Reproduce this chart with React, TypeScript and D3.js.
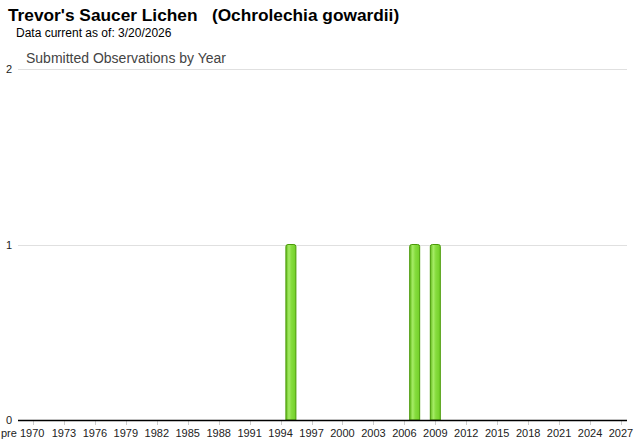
import React from "react";
import * as d3 from "d3";

const tickYears: number[] = d3.range(1970, 2028, 3);
const obsYears: number[] = [1995, 2007, 2009];
const obsCounts: number[] = [1, 1, 1];
const yTicks: number[] = [0, 1, 2];
const titleText = "Trevor's Saucer Lichen   (Ochrolechia gowardii)";
const subtitleText = "Data current as of: 3/20/2026";
const chartTitle = "Submitted Observations by Year";

const W = 640;
const H = 442;

export default function App() {
  const x = d3.scaleLinear().domain([1970, 2027]).range([33, 621]);
  const y = d3.scaleLinear().domain([0, 2]).range([420, 69]);
  const barW = 10;
  const label = (yr: number) => (yr === 1970 ? "pre 1970" : String(yr));

  return (
    <svg
      width={W}
      height={H}
      style={{ position: "absolute", left: 0, top: 0, fontFamily: "Arial, 'Liberation Sans', sans-serif" }}
    >
      <defs>
        <linearGradient id="barGrad" x1="0" x2="1" y1="0" y2="0">
          <stop offset="0%" stopColor="#62bb1c" />
          <stop offset="30%" stopColor="#a6ec66" />
          <stop offset="55%" stopColor="#86dc3e" />
          <stop offset="100%" stopColor="#72cf28" />
        </linearGradient>
      </defs>
      <rect width={W} height={H} fill="#fff" />
      <text x={8} y={21} fontSize={17.3} fontWeight="bold" fill="#000" style={{ whiteSpace: "pre" }}>
        {titleText}
      </text>
      <text x={16} y={37} fontSize={12} fill="#000">
        {subtitleText}
      </text>
      <text x={26} y={63} fontSize={14} fill="#444">
        {chartTitle}
      </text>

      {yTicks.filter((t) => t > 0).map((t) => (
        <line key={"g" + t} x1={18} x2={627} y1={Math.round(y(t)) + 0.5} y2={Math.round(y(t)) + 0.5} stroke="#e0e0e0" />
      ))}
      {yTicks.map((t) => (
        <text key={"yl" + t} x={12} y={y(t) + 4} fontSize={11} fill="#222" textAnchor="end">
          {t}
        </text>
      ))}

      {tickYears.map((yr) => (
        <line key={"t" + yr} x1={Math.round(x(yr)) + 0.5} x2={Math.round(x(yr)) + 0.5} y1={421} y2={425} stroke="#ccc" />
      ))}
      {tickYears.map((yr) => (
        <text
          key={"xl" + yr}
          x={yr === 1970 ? 1 : x(yr)}
          y={437}
          fontSize={11}
          fill="#222"
          textAnchor={yr === 1970 ? "start" : "middle"}
        >
          {label(yr)}
        </text>
      ))}

      {obsYears.map((yr, i) => {
        const x0 = x(yr) - barW / 2;
        const top = y(obsCounts[i]);
        const bottom = y(0);
        const r = 2;
        const p = `M${x0},${bottom} L${x0},${top + r} Q${x0},${top} ${x0 + r},${top} L${x0 + barW - r},${top} Q${x0 + barW},${top} ${x0 + barW},${top + r} L${x0 + barW},${bottom} Z`;
        return <path key={"b" + yr} d={p} fill="url(#barGrad)" stroke="#4a9a08" strokeWidth={1} />;
      })}

      <line x1={18} x2={627} y1={420.5} y2={420.5} stroke="#000" strokeWidth={1.5} />
    </svg>
  );
}
